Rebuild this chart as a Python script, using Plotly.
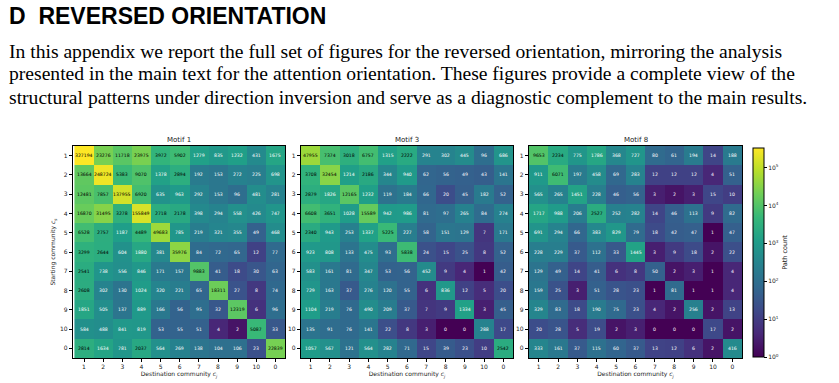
import numpy as np
import plotly.graph_objects as go

# ---------------- data ----------------
communities = ["1", "2", "3", "4", "5", "6", "7", "8", "9", "10", "0"]
motif_titles = ["Motif 1", "Motif 3", "Motif 8"]

motif1 = [
    [327194, 23276, 11718, 23975, 3972, 5902, 1279, 835, 1232, 431, 1675],
    [13664, 248724, 5383, 9070, 1378, 2894, 192, 153, 272, 225, 698],
    [12481, 7857, 137955, 6920, 635, 963, 292, 153, 96, 481, 281],
    [16870, 31495, 3278, 155849, 2718, 2178, 398, 294, 558, 426, 747],
    [6528, 2757, 1187, 4489, 49683, 785, 219, 321, 355, 49, 468],
    [3299, 2644, 604, 1880, 381, 35976, 84, 72, 65, 12, 77],
    [2541, 738, 556, 846, 171, 157, 9883, 41, 18, 30, 63],
    [2608, 302, 130, 1024, 320, 221, 65, 18311, 27, 8, 74],
    [1851, 505, 137, 889, 166, 56, 95, 32, 12319, 6, 96],
    [584, 488, 841, 819, 53, 55, 51, 4, 2, 5087, 33],
    [2814, 1634, 781, 2037, 564, 269, 138, 104, 106, 23, 22839],
]
motif3 = [
    [47955, 7374, 3018, 6757, 1315, 2222, 291, 302, 445, 96, 686],
    [3708, 32454, 1214, 2186, 344, 940, 62, 56, 49, 43, 141],
    [2879, 1826, 12165, 1232, 119, 184, 66, 20, 45, 182, 52],
    [6608, 3651, 1028, 15589, 942, 986, 81, 97, 265, 84, 274],
    [2340, 943, 253, 1337, 5225, 227, 58, 151, 129, 7, 171],
    [923, 808, 133, 475, 93, 5838, 24, 15, 25, 8, 52],
    [583, 161, 81, 347, 53, 56, 452, 9, 4, 1, 42],
    [729, 163, 37, 276, 120, 55, 6, 836, 12, 5, 20],
    [1104, 219, 76, 490, 209, 37, 7, 9, 1334, 3, 45],
    [135, 91, 76, 141, 22, 8, 3, 0, 0, 288, 17],
    [1057, 567, 121, 564, 282, 71, 15, 39, 23, 10, 2542],
]
motif8 = [
    [9653, 2234, 775, 1786, 368, 727, 80, 61, 194, 14, 188],
    [911, 6071, 197, 458, 69, 283, 12, 12, 12, 4, 51],
    [565, 265, 1451, 228, 46, 56, 3, 2, 3, 15, 10],
    [1717, 988, 206, 2527, 252, 282, 14, 46, 113, 9, 82],
    [691, 294, 66, 383, 829, 79, 18, 42, 47, 1, 47],
    [228, 229, 37, 112, 33, 1445, 3, 9, 18, 2, 22],
    [129, 49, 14, 41, 6, 8, 50, 2, 3, 1, 4],
    [159, 25, 3, 51, 28, 23, 1, 81, 1, 1, 4],
    [329, 83, 18, 190, 75, 23, 4, 2, 256, 2, 13],
    [20, 28, 5, 19, 2, 3, 0, 0, 0, 17, 2],
    [333, 161, 37, 115, 60, 37, 13, 12, 6, 2, 416],
]
motifs = [motif1, motif3, motif8]

cbar_tickvals = [0, 1, 2, 3, 4, 5]
cbar_ticktext = ["10<sup>0</sup>", "10<sup>1</sup>", "10<sup>2</sup>",
                 "10<sup>3</sup>", "10<sup>4</sup>", "10<sup>5</sup>"]

heading = "D  REVERSED ORIENTATION"
para_lines = [
    "In this appendix we report the full set of figures for the reversed orientation, mirroring the analysis",
    "presented in the main text for the attention orientation. These figures provide a complete view of the",
    "structural patterns under direction inversion and serve as a diagnostic complement to the main results.",
]

# ---------------- layout geometry ----------------
W, H = 839, 383
def fx(px):
    return px / W
def fy(py):
    return 1 - py / H

x_domains = [(73, 285), (301, 513), (529, 742)]
y_domain = (146, 358)

vmax = np.log10(max(max(max(r) for r in m) for m in motifs))
text_thresh = 0.6 * vmax

fig = go.Figure()
annotations = []
for i, (m, title) in enumerate(zip(motifs, motif_titles)):
    arr = np.array(m, dtype=float)
    z = np.log10(np.clip(arr, 1, None))
    sfx = "" if i == 0 else str(i + 1)
    fig.add_trace(go.Heatmap(
        z=z, x=communities, y=communities,
        colorscale="Viridis", zmin=0, zmax=vmax,
        xaxis="x" + sfx, yaxis="y" + sfx,
        showscale=(i == 0),
        hoverinfo="skip",
        colorbar=dict(
            x=fx(753), xanchor="left", xpad=0,
            y=fy((148 + 357) / 2), yanchor="middle", ypad=0,
            thickness=11, thicknessmode="pixels",
            len=209, lenmode="pixels",
            outlinecolor="black", outlinewidth=1,
            tickvals=cbar_tickvals, ticktext=cbar_ticktext,
            ticks="outside", ticklen=3, tickcolor="black",
            tickfont=dict(size=6, color="#222", family="DejaVu Sans"),
            title=dict(text="Path count", side="right",
                       font=dict(size=6.5, color="#222", family="DejaVu Sans")),
        ),
    ))
    # cell labels, positioned by category index on the category axes
    for r in range(len(communities)):
        for c in range(len(communities)):
            v = m[r][c]
            col = "black" if z[r, c] > text_thresh else "white"
            annotations.append(dict(
                x=c, y=r, xref="x" + sfx, yref="y" + sfx,
                text=str(v), showarrow=False,
                font=dict(size=4.6, color=col, family="DejaVu Sans"),
            ))
    x0, x1 = x_domains[i]
    axis_common = dict(
        showline=True, linecolor="black", linewidth=1.2, mirror=True,
        ticks="outside", ticklen=3, tickwidth=0.8, tickcolor="black",
        tickfont=dict(size=6, color="#222", family="DejaVu Sans"),
        showgrid=False, zeroline=False, type="category",
    )
    fig.update_layout(**{
        "xaxis" + sfx: dict(
            domain=[fx(x0), fx(x1)], anchor="y" + sfx,
            title=dict(text="Destination community <i>c<sub>j</sub></i>",
                       font=dict(size=6, color="#222", family="DejaVu Sans"),
                       standoff=2),
            **axis_common),
        "yaxis" + sfx: dict(
            domain=[fy(y_domain[1]), fy(y_domain[0])], anchor="x" + sfx,
            autorange="reversed",
            title=dict(text=("Starting community <i>c<sub>s</sub></i>" if i == 0 else ""),
                       font=dict(size=6, color="#222", family="DejaVu Sans"),
                       standoff=3),
            **axis_common),
    })
    annotations.append(dict(
        x=fx((x0 + x1) / 2), y=fy(140), xref="paper", yref="paper",
        text=title, showarrow=False, xanchor="center", yanchor="middle",
        font=dict(size=7, color="#222", family="DejaVu Sans"),
    ))

annotations.append(dict(
    x=fx(7), y=fy(16), xref="paper", yref="paper", text="<b>" + heading + "</b>",
    showarrow=False, xanchor="left", yanchor="middle",
    font=dict(size=23, color="black", family="Liberation Sans"),
))
for k, line in enumerate(para_lines):
    annotations.append(dict(
        x=fx(7), y=fy(51 + 23 * k), xref="paper", yref="paper", text=line,
        showarrow=False, xanchor="left", yanchor="middle",
        font=dict(size=19.6, color="black", family="Liberation Serif"),
    ))

fig.update_layout(
    width=W, height=H,
    margin=dict(l=0, r=0, t=0, b=0),
    paper_bgcolor="white", plot_bgcolor="white",
    annotations=annotations,
    showlegend=False,
)
fig.write_html("out.html")
